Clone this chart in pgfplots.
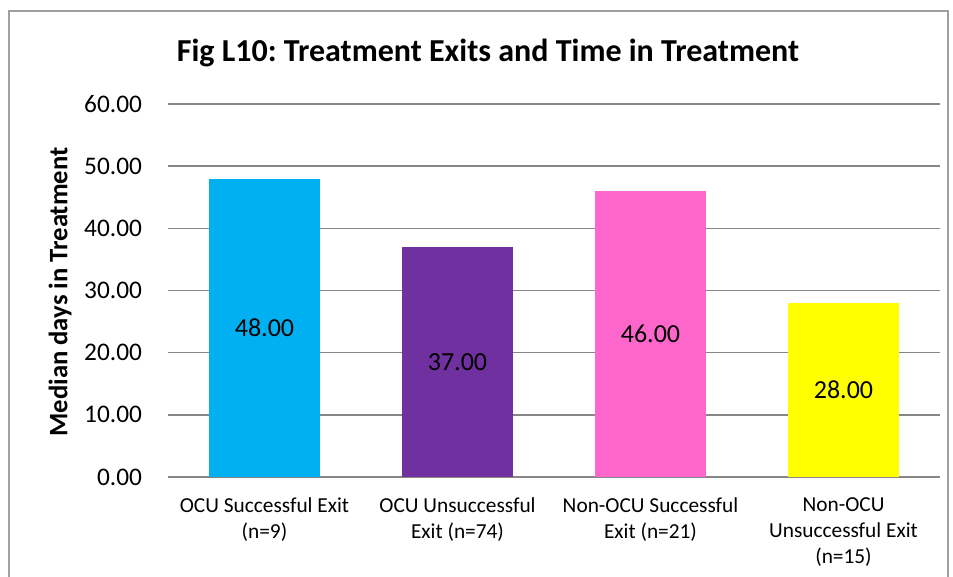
\documentclass[border=0pt]{standalone}
\usepackage{pgfplots}
\pgfplotsset{compat=1.18}
\usepackage{fontspec}
\setmainfont{Carlito}
\frenchspacing
\definecolor{gridgray}{HTML}{868686}
\definecolor{framegray}{HTML}{A0A0A0}
\definecolor{c1}{HTML}{00B0F0}
\definecolor{c2}{HTML}{7030A0}
\definecolor{c3}{HTML}{FF66CC}
\definecolor{c4}{HTML}{FFFF00}
\begin{document}
\begin{tikzpicture}[x=0.75pt,y=0.75pt]
\useasboundingbox (0,0) rectangle (953,577);
\draw[framegray,line width=1.1pt] (9,0) -- (9,566) -- (948,566) -- (948,0);
\node[font=\fontsize{24}{28}\selectfont\bfseries] at (488,524) {Fig L10: Treatment Exits and Time in Treatment};
\node[font=\fontsize{20}{24}\selectfont\bfseries, rotate=90] at (60,285) {Median days in Treatment};
\begin{axis}[
  at={(168*0.75pt,100*0.75pt)}, anchor=south west,
  scale only axis,
  width=579pt, height=279.75pt,
  xmin=-0.5, xmax=3.5, ymin=0, ymax=60,
  ytick={0,10,...,60},
  xtick={0,1,2,3},
  xticklabels={{OCU Successful Exit\\(n=9)},{OCU Unsuccessful\\Exit (n=74)},{Non-OCU Successful\\Exit (n=21)},{Non-OCU\\Unsuccessful Exit\\(n=15)}},
  xticklabel style={font=\fontsize{16}{19.5}\selectfont, align=center, anchor=north, yshift=-12pt},
  yticklabel style={font=\fontsize{19}{23}\selectfont, xshift=-16pt, anchor=east},
  /pgf/number format/assume math mode=true,
  yticklabel={\pgfmathprintnumber[fixed,fixed zerofill,precision=2]{\tick}},
  major tick length=0pt,
  axis line style={draw=none},
  ymajorgrids, grid style={gridgray, line width=1.1pt},
  ybar, bar width=83.25pt, bar shift=0pt,
  nodes near coords,
  nodes near coords style={font=\fontsize{19.5}{23}\selectfont, text=black, anchor=center},
  visualization depends on={rawy \as \rawy},
  every node near coord/.append style={shift={(axis direction cs:0,-\rawy/2)}},
  point meta=explicit symbolic,
  clip=false,
]
\addplot[fill=c1, draw=none] coordinates {(0,48) [48.00]};
\addplot[fill=c2, draw=none] coordinates {(1,37) [37.00]};
\addplot[fill=c3, draw=none] coordinates {(2,46) [46.00]};
\addplot[fill=c4, draw=none] coordinates {(3,28) [28.00]};
\end{axis}
\end{tikzpicture}
\end{document}
